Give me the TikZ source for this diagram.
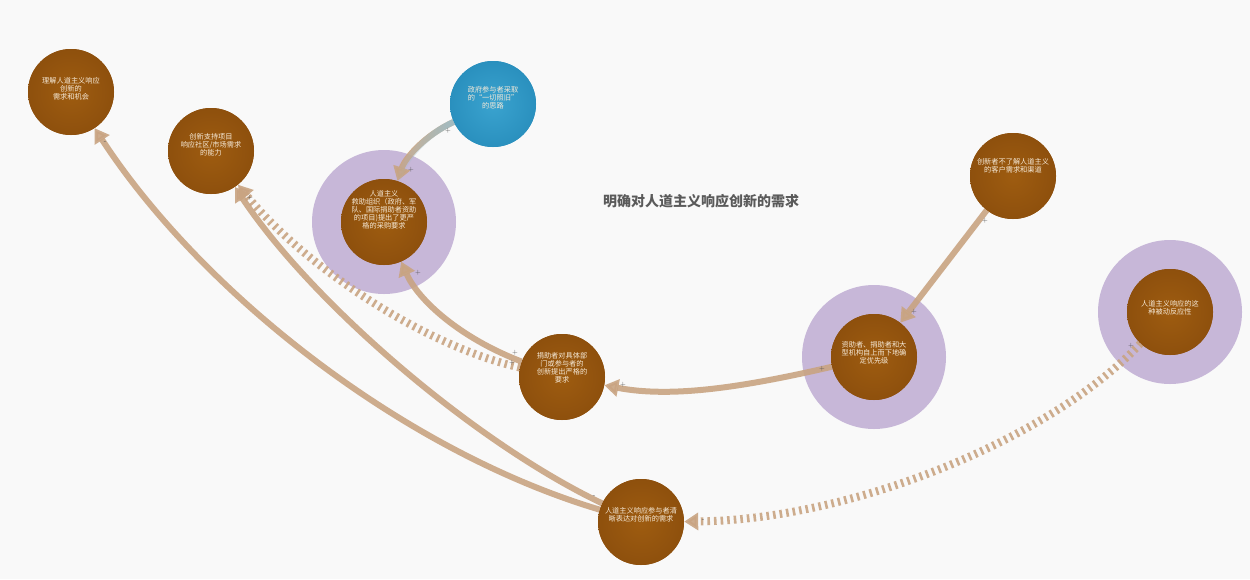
\documentclass[tikz,border=0pt]{standalone}
\usepackage{fontspec}
\newfontfamily\cjk{Noto Sans CJK SC}
\usetikzlibrary{arrows.meta,fadings}

\definecolor{paper}{HTML}{F9F9F9}
\definecolor{nodebrownin}{HTML}{9E5C10}
\definecolor{nodebrownout}{HTML}{8E500D}
\definecolor{nodebluein}{HTML}{3AA3CF}
\definecolor{nodeblueout}{HTML}{2A90BE}
\definecolor{halocol}{HTML}{C7B7D8}
\definecolor{linkcol}{HTML}{C9A482}
\definecolor{linkblue}{HTML}{9FBDC6}
\definecolor{labelcol}{HTML}{F6EAD8}
\definecolor{titlecol}{HTML}{5A5A5A}
\definecolor{signcol}{HTML}{4A4A4A}

\tikzfading[name=fadeleft, left color=transparent!100, right color=transparent!0]

\tikzset{
  concept/.style={circle, minimum size=86pt, inner sep=0pt, shading=radial,
    inner color=nodebrownin, outer color=nodebrownout},
  govnode/.style={circle, minimum size=86pt, inner sep=0pt, shading=radial,
    inner color=nodebluein, outer color=nodeblueout},
  halo/.style={circle, minimum size=144pt, inner sep=0pt, fill=halocol},
  txt/.style={font=\cjk\fontsize{7.2}{8}\selectfont, text=labelcol, align=center, inner sep=0pt},
  link/.style={draw=linkcol, line width=6pt, opacity=0.9,
    -{Triangle[length=14pt,width=17pt]}},
  weaklink/.style={draw=linkcol, line width=8pt, opacity=0.9, dash pattern=on 2.6pt off 4pt,
    -{Triangle[length=14pt,width=17pt]}},
  sign/.style={font=\sffamily\fontsize{7}{7}\selectfont, text=signcol, inner sep=0pt},
}

\begin{document}
\begin{tikzpicture}[x=1pt,y=-1pt]
  % canvas
  \fill[paper] (0,0) rectangle (1250,579);
  \useasboundingbox (0,0) rectangle (1250,579);

  % halos behind the highlighted factors
  \node[halo] (dh) at (384,222) {};
  \node[halo] (fh) at (874,357) {};
  \node[halo] (hh) at (1170,312) {};

  % factor circles (placed first so connectors can refer to them)
  \path
    (71,92)   node[concept] (a) {}
    (211,151) node[concept] (b) {}
    (493,104) node[govnode] (c) {}
    (384,222) node[concept] (d) {}
    (562,377) node[concept] (e) {}
    (874,357) node[concept] (f) {}
    (1013,176) node[concept] (g) {}
    (1170,312) node[concept] (h) {}
    (641,522) node[concept] (i) {};

  % connectors
  \draw[link] (c) .. controls (425,135) and (405,158) .. (d);
  \draw[line width=6pt, draw=linkblue, path fading=fadeleft] (c) .. controls (425,135) and (405,158) .. (d);
  \draw[link] (e) .. controls (460,338) and (418,300) .. (d);
  \draw[weaklink] (e) .. controls (420,345) and (300,262) .. (b);
  \draw[link] (f) .. controls (740,388) and (670,398) .. (e);
  \draw[link] (g) -- (f);
  \draw[weaklink] (h) .. controls (1050,440) and (850,520) .. (i);
  \draw[link] (i) .. controls (400,450) and (200,290) .. (a);
  \draw[link] (i) .. controls (470,440) and (310,300) .. (b);

  % redraw circles over connector ends
  \node[concept] at (a) {};
  \node[concept] at (b) {};
  \node[govnode] at (c) {};
  \node[concept] at (d) {};
  \node[concept] at (e) {};
  \node[concept] at (f) {};
  \node[concept] at (g) {};
  \node[concept] at (h) {};
  \node[concept] at (i) {};

  % circle texts
  \node[txt] (ta) at ([yshift=3pt]a.center) {理解人道主义响应\\创新的\\需求和机会};
  \node[txt] (tb) at ([yshift=6pt]b.center) {创新支持项目\\响应社区/市场需求\\的能力};
  \node[txt] (tc) at ([yshift=6pt]c.center) {政府参与者采取\\的“一切照旧”\\的思路};
  \node[txt] (td) at ([yshift=12pt]d.center) {人道主义\\救助组织（政府、军\\队、国际捐助者资助\\的项目)提出了更严\\格的采购要求};
  \node[txt] (te) at ([yshift=9pt]e.center) {捐助者对具体部\\门或参与者的\\创新提出严格的\\要求};
  \node[txt] (tf) at ([yshift=4pt]f.center) {资助者、捐助者和大\\型机构自上而下地确\\定优先级};
  \node[txt] (tg) at ([yshift=10pt]g.center) {创新者不了解人道主义\\的客户需求和渠道};
  \node[txt] (th) at ([yshift=4pt]h.center) {人道主义响应的这\\种被动反应性};
  \node[txt] (ti) at ([yshift=7pt]i.center) {人道主义响应参与者清\\晰表达对创新的需求};

  % title
  \node[font=\cjk\bfseries\fontsize{14}{16}\selectfont, text=titlecol] (title) at (701,201) {明确对人道主义响应创新的需求};

  % polarity signs
  \node[sign] (s1) at (448,131) {+};
  \node[sign] (s2) at (411,170) {+};
  \node[sign] (s3) at (515,353) {+};
  \node[sign] (s4) at (418,273) {+};
  \node[sign] (s5) at (512,363) {+};
  \node[sign] (s6) at (250,198) {+};
  \node[sign] (s7) at (822,369) {+};
  \node[sign] (s8) at (623,385) {+};
  \node[sign] (s9) at (985,221) {+};
  \node[sign] (s10) at (914,312) {+};
  \node[sign] (s11) at (1131,346) {+};
  \node[sign] (s12) at (703,521) {-};
  \node[sign] (s13) at (594,497) {-};
  \node[sign] (s14) at (105,143) {-};
\end{tikzpicture}
\end{document}
